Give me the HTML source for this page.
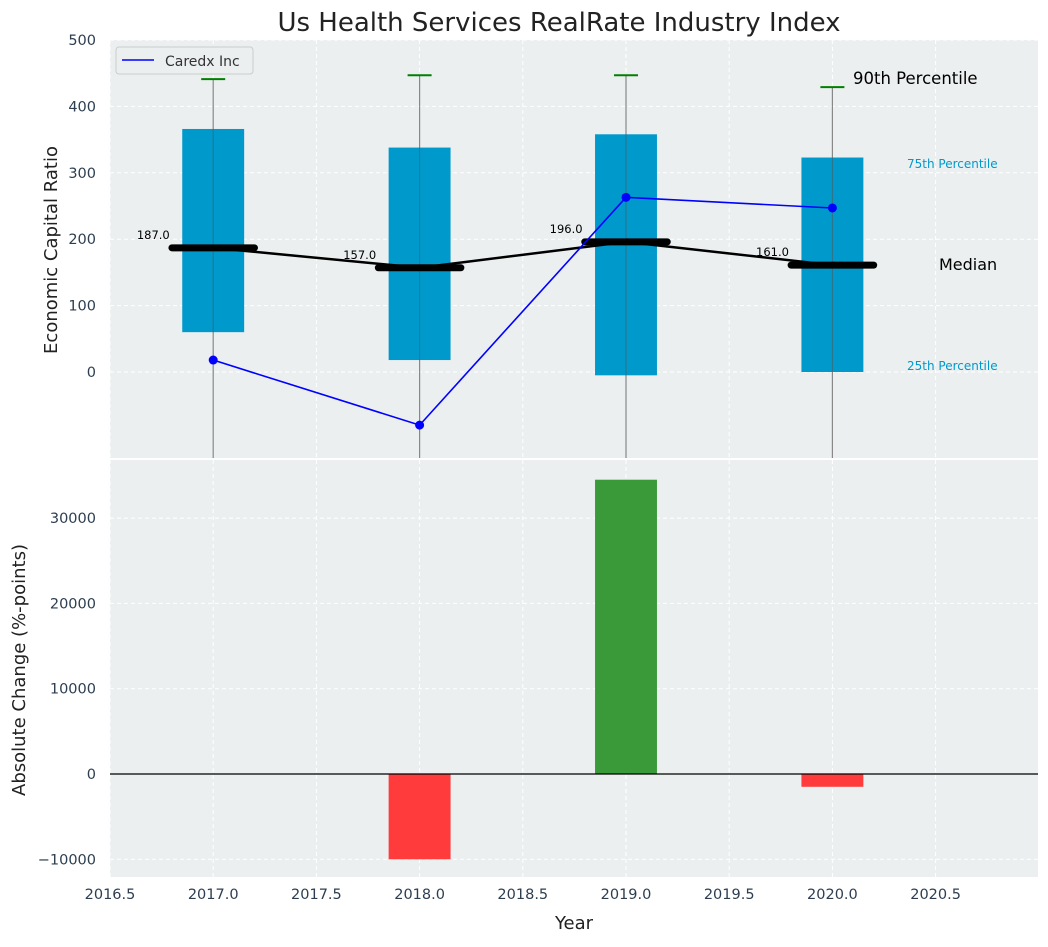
<!DOCTYPE html>
<html><head><meta charset="utf-8"><style>
body{margin:0;background:#fff;}
svg text{font-family:"DejaVu Sans","Liberation Sans",sans-serif;}
</style></head><body>
<svg id="chart" width="1048" height="942" xmlns="http://www.w3.org/2000/svg">
<text x="559" y="31" text-anchor="middle" font-size="26" fill="#222">Us Health Services RealRate Industry Index</text>
<g id="topPanel"></g><g id="botPanel"></g>
</svg>
<script>
const years=[2017,2018,2019,2020];
const p25=[60,18,-5,0];
const p75=[366,338,358,323];
const p90=[441,447,447,429];
const medians=[187,157,196,161];
const company=[18,-80,263,247];
const changes=[0,-10000,34500,-1500];
const xTicks=[2016.5,2017,2017.5,2018,2018.5,2019,2019.5,2020,2020.5];
const yTopTicks=[0,100,200,300,400,500];
const yBotTicks=[-10000,0,10000,20000,30000];

const NS="http://www.w3.org/2000/svg";
const L=110,R=1038;
const X=v=>L+(v-2016.5)*206.4;
const YT=v=>372-v*0.664;
const YB=v=>774-v*0.00853;
function el(t,a,p){const e=document.createElementNS(NS,t);for(const k in a)e.setAttribute(k,a[k]);p.appendChild(e);return e;}
const topG=document.getElementById('topPanel'),botG=document.getElementById('botPanel');
const tT=40,tB=458,bT=460,bB=877;

function panel(g,y0,y1,yt,Y,fmt,name){
  const bg=el('rect',{x:L,y:y0,width:R-L,height:y1-y0,fill:'#ebeff0'},g);
  
  
  xTicks.forEach(v=>el('line',{x1:X(v),x2:X(v),y1:y0,y2:y1,stroke:'#fff','stroke-dasharray':'4,3','stroke-width':1},g));
  yt.forEach(v=>{const y=Y(v);
    el('line',{x1:L,x2:R,y1:y,y2:y,stroke:'#fff','stroke-dasharray':'4,3','stroke-width':1},g);
    const t=el('text',{x:L-14,y:y+5,'text-anchor':'end','font-size':14.5,fill:'#2d3e50'},g);t.textContent=fmt(v);
    
    });
}
panel(topG,tT,tB,yTopTicks,YT,v=>v,'top');
panel(botG,bT,bB,yBotTicks,YB,v=>v<0?'\u2212'+(-v):v,'bottom');

years.forEach((yr,i)=>{
  const x=X(yr);
  const wl=el('line',{x1:x,x2:x,y1:YT(p90[i]),y2:tB,stroke:'#888','stroke-width':1.2},topG);
  
  
  const b=el('rect',{x:X(yr-0.15),y:YT(p75[i]),width:X(yr+0.15)-X(yr-0.15),height:YT(p25[i])-YT(p75[i]),fill:'#0099cc'},topG);
  
  
  el('line',{x1:x,x2:x,y1:YT(p75[i]),y2:YT(p25[i]),stroke:'#555','stroke-width':1,opacity:0.6},topG);
  const c=el('line',{x1:x-12,x2:x+12,y1:YT(p90[i]),y2:YT(p90[i]),stroke:'green','stroke-width':2},topG);
  
  
});
el('polyline',{points:years.map((yr,i)=>X(yr)+','+YT(medians[i])).join(' '),fill:'none',stroke:'#000','stroke-width':2.5},topG);
years.forEach((yr,i)=>{
  const m=el('line',{x1:X(yr-0.2),x2:X(yr+0.2),y1:YT(medians[i]),y2:YT(medians[i]),stroke:'#000','stroke-width':7,'stroke-linecap':'round'},topG);
  
  
  const t=el('text',{x:X(yr-0.37),y:YT(medians[i])-9,'font-size':11.5,fill:'#000'},topG);t.textContent=medians[i].toFixed(1);
  
  
});
el('polyline',{points:years.map((yr,i)=>X(yr)+','+YT(company[i])).join(' '),fill:'none',stroke:'#0000ff','stroke-width':1.6},topG);
years.forEach((yr,i)=>{const c=el('circle',{cx:X(yr),cy:YT(company[i]),r:4.5,fill:'#0000ff'},topG);
  
  });
[['90th Percentile',853,84,16.5,'#000'],['75th Percentile',907,168,12,'#0099cc'],['Median',939,270,16,'#000'],['25th Percentile',907,370,12,'#0099cc']].forEach(a=>{
  const t=el('text',{x:a[1],y:a[2],'font-size':a[3],fill:a[4]},topG);t.textContent=a[0];
  
  });
const lg=el('g',{},topG);


el('rect',{x:116,y:47,width:137,height:27,rx:3,fill:'#ebeff0',stroke:'#ccc'},lg);
el('line',{x1:122,x2:154,y1:60,y2:60,stroke:'#0000ff','stroke-width':1.6},lg);
const lt=el('text',{x:165,y:66,'font-size':14,fill:'#333'},lg);lt.textContent='Caredx Inc';
const yl=el('text',{x:0,y:0,'font-size':18,fill:'#222','text-anchor':'middle',transform:'translate(57,250) rotate(-90)'},topG);
yl.textContent='Economic Capital Ratio';



years.forEach((yr,i)=>{
  const v=changes[i];if(v===0)return;
  const y=Math.min(YB(v),YB(0)),h=Math.abs(YB(v)-YB(0));
  const b=el('rect',{x:X(yr-0.15),y:y,width:X(yr+0.15)-X(yr-0.15),height:h,fill:v>0?'#3a9a3a':'#ff3b3b'},botG);
  
  
});
el('line',{x1:L,x2:R,y1:YB(0),y2:YB(0),stroke:'#000','stroke-width':1.2},botG);
xTicks.forEach(v=>{const t=el('text',{x:X(v),y:bB+22,'text-anchor':'middle','font-size':14.5,fill:'#2d3e50'},botG);t.textContent=v.toFixed(1);
  
  });
const xl=el('text',{x:574,y:929,'text-anchor':'middle','font-size':18,fill:'#222'},botG);xl.textContent='Year';


const yb=el('text',{x:0,y:0,'font-size':18,fill:'#222','text-anchor':'middle',transform:'translate(25,670) rotate(-90)'},botG);
yb.textContent='Absolute Change (%-points)';


</script>
</body></html>
